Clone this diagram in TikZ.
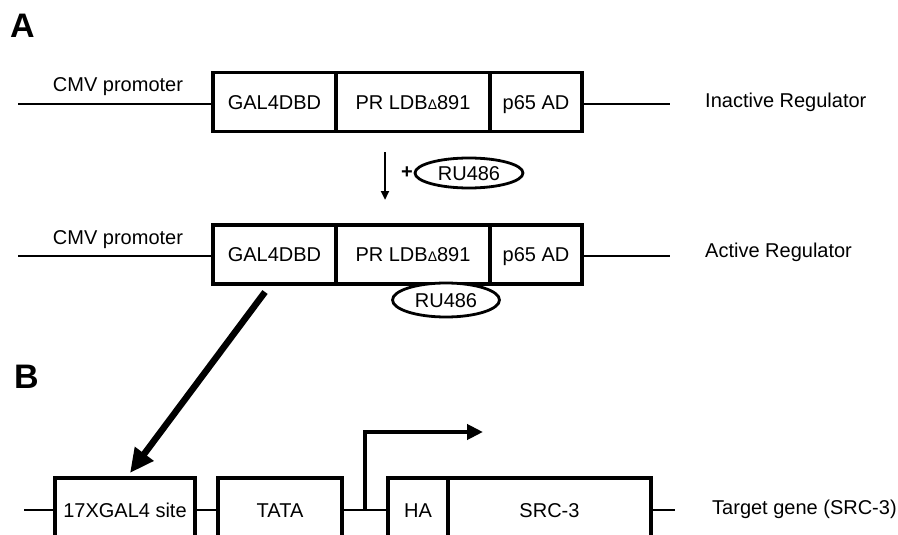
\documentclass[tikz,border=0pt]{standalone}
\usepackage{fontspec}
\setmainfont{Liberation Sans}
\usetikzlibrary{arrows.meta,positioning,shapes.geometric}
\tikzset{
  gene box/.style={draw,line width=3.3pt,outer sep=0pt,inner sep=0pt,
    minimum height=59pt,text height=14.5pt,text depth=0pt,font=\fontsize{20}{22}\selectfont},
  site box/.style={gene box,minimum height=64pt},
  ligand/.style={draw,ellipse,line width=2.8pt,inner sep=0pt,fill=white,
    text height=14.5pt,text depth=0pt,font=\fontsize{20}{22}\selectfont},
  dna line/.style={line width=2.6pt},
  side label/.style={anchor=west,inner sep=0pt,font=\fontsize{20}{22}\selectfont},
  panel label/.style={anchor=west,inner sep=0pt,font=\fontsize{34}{36}\selectfont\bfseries},
  small arrow/.style={-{Triangle[length=9pt,width=8pt]},line width=2.4pt},
  big arrow/.style={-{Triangle[length=24pt,width=22pt]},line width=6.5pt},
  start arrow/.style={-{Triangle[length=16pt,width=15pt]},line width=4.8pt}
}
\begin{document}
\begin{tikzpicture}[x=1pt,y=-1pt]
\useasboundingbox (0,0) rectangle (898,535);
\clip (0,0) rectangle (898,535);
\node[panel label] (pa) at (10,26) {A};
\node[panel label] (pb) at (14,377) {B};
% inactive regulator
\node[gene box,minimum width=123pt] (gal1) at (274.5,102) {GAL4DBD};
\node[gene box,minimum width=154pt,right=0pt of gal1] (pr1) {PR LDB{\fontsize{14}{14}\selectfont Δ}891};
\node[gene box,minimum width=92pt,right=0pt of pr1] (p65a) {p65 AD};
\coordinate (in1) at (18,104); \coordinate (out1) at (670,104);
\draw[dna line] (in1) -- (in1 -| gal1.west); \draw[dna line] (p65a.east |- out1) -- (out1);
\node[side label,anchor=center] (cmv1) at (118,87) {CMV promoter};
\node[side label] (inact) at (705,102) {Inactive Regulator};
% + RU486
\coordinate (dn1) at (385,152); \coordinate (dn2) at (385,200);
\draw[small arrow] (dn1) -- (dn2);
\node[side label,anchor=center] (plus) at (407,173) {\textbf{+}};
\node[ligand,minimum width=108pt,minimum height=30pt] (ru1) at (469,173) {RU486};
% active regulator
\node[gene box,minimum width=123pt] (gal2) at (274.5,254.5) {GAL4DBD};
\node[gene box,minimum width=154pt,right=0pt of gal2] (pr2) {PR LDB{\fontsize{14}{14}\selectfont Δ}891};
\node[gene box,minimum width=92pt,right=0pt of pr2] (p65b) {p65 AD};
\coordinate (in2) at (18,256); \coordinate (out2) at (670,256);
\draw[dna line] (in2) -- (in2 -| gal2.west); \draw[dna line] (p65b.east |- out2) -- (out2);
\node[side label,anchor=center] (cmv2) at (118,240) {CMV promoter};
\node[side label] (act) at (705,252) {Active Regulator};
\node[ligand,minimum width=107pt,minimum height=34pt] (ru2) at (446,300) {RU486};
% target gene
\node[site box,minimum width=140pt] (site) at (125,510) {17XGAL4 site};
\node[site box,minimum width=124pt] (tata) at (280,510) {TATA};
\node[site box,minimum width=60pt] (ha) at (418,510) {HA};
\node[site box,minimum width=203pt,right=0pt of ha] (src) {SRC-3};
\coordinate (in3) at (24,510); \coordinate (out3) at (675,510);
\draw[dna line] (in3) -- (site.west); \draw[dna line] (site.east) -- (tata.west);
\draw[dna line] (tata.east) -- (ha.west); \draw[dna line] (src.east) -- (out3);
\node[side label] (target) at (712,509) {Target gene (SRC-3)};
\coordinate (tss) at (365,510); \coordinate (tsshead) at (483,432);
\draw[start arrow] (tss) |- (tsshead);
\draw[big arrow] ([xshift=-9.5pt,yshift=-8pt]gal2.south) -- ([xshift=5pt,yshift=5pt]site.north);
\end{tikzpicture}
\end{document}
